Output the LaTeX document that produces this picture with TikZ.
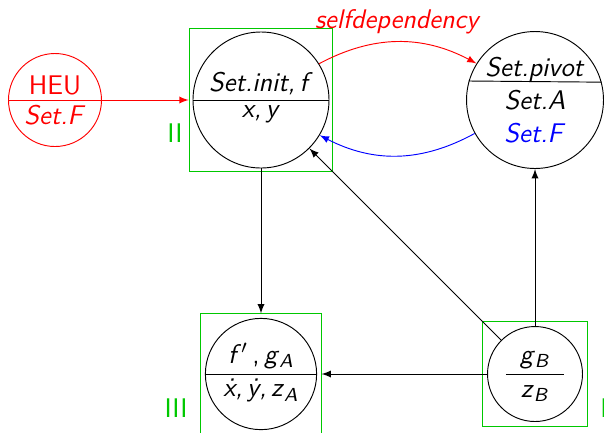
\documentclass[tikz,border=0pt]{standalone}
\usetikzlibrary{shapes.multipart}
\usetikzlibrary{positioning}
\usetikzlibrary{fit}
\definecolor{boxgreen}{RGB}{0,200,0}
\newcommand{\vsub}[2]{\textit{#1}\textsubscript{\textit{#2}}}
\tikzset{node distance=4.11cm,
    every node/.style={
        font=\fontsize{11.5}{14}\selectfont\sffamily},
    split/.style={
        circle split,
        draw,
        inner sep=2pt},
    plain/.style={
        circle,
        draw,
        inner sep=1pt},
    gbox/.style={
        draw=boxgreen,
        inner sep=0.07cm},
    gtext/.style={
        text=boxgreen},
    every edge/.style={
        draw,
        ->,>=latex,
        auto,
        thin}}

\begin{document}
\begin{tikzpicture}[x=0.015cm,y=-0.015cm]
        \clip (0,0) rectangle (604,432);
        \node[split,minimum size=2.04cm] (init) at (261,100) {\textit{Set.init,\,f} \nodepart{lower} \textit{x,\,y}};
        \node[split,red,minimum size=1.395cm,left of=init,node distance=3.09cm] (heu) {HEU \nodepart{lower} \textit{Set.F}};
        \node[plain,minimum size=2.01cm,right of=init,align=center] (pivot) {\textit{Set.pivot}\\\textit{Set.A}\\\textcolor{blue}{\textit{Set.F}}};
        \node[split,minimum size=1.65cm,below of=init] (fa) {\textit{f}$^{\prime}$\,,\,\vsub{g}{A} \nodepart{lower} \textit{\.x,\,\.y,\,}\vsub{z}{A}};
        \node[plain,minimum size=1.395cm,below of=pivot] (gb) {\begin{tabular}{c}\vsub{g}{B}\\\hline\vsub{z}{B}\end{tabular}};
        \draw (pivot.164.4) -- (pivot.15.6);

        \node[gbox,fit=(init),inner sep=0.05cm] (initbox) {};
        \node[gbox,fit=(fa),inner sep=0.06cm] (fabox) {};
        \node[gbox,fit=(gb)] (gbbox) {};
        \node[gtext] (lII) at (175,133) {II};
        \node[gtext] (lIII) at (176,408) {III};
        \node[gtext] (lI) at (604,408) {I};

        \draw[red] (heu) edge (initbox);
        \draw[red] (init.32) edge[bend left=28] node[above] {\textit{selfdependency}} (pivot.148);
        \draw[blue] (pivot.209) edge[bend left=28] (init.329);
        \draw (init) edge (fabox);
        \draw (gb) edge (fabox);
        \draw (gb) edge (init);
        \draw (gb) edge (pivot);
    \end{tikzpicture}
\end{document}
